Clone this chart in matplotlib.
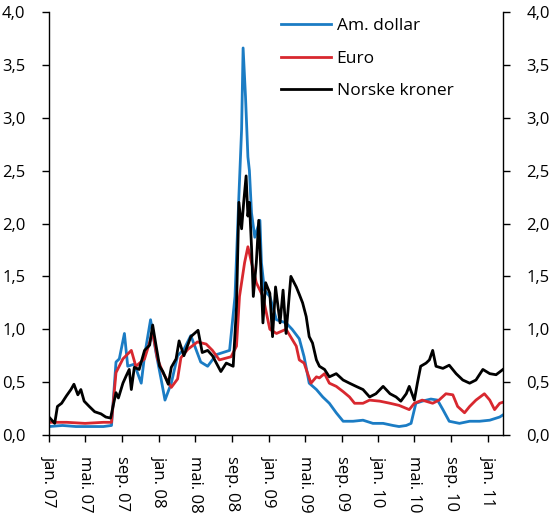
import pandas as pd
import numpy as np
import matplotlib
matplotlib.use("Agg")
import matplotlib.pyplot as plt

plt.rcParams['font.family'] = ['Open Sans', 'DejaVu Sans']

# Am. dollar
usd_dates = [
    "2007-01-01", "2007-02-15", "2007-04-01", "2007-05-15", "2007-07-01", "2007-07-28",
    "2007-08-12", "2007-08-23", "2007-09-09", "2007-09-20", "2007-10-12", "2007-11-04",
    "2007-11-15", "2007-12-05", "2007-12-23", "2008-01-09", "2008-01-22", "2008-02-12",
    "2008-03-04", "2008-03-25", "2008-04-17", "2008-05-20", "2008-06-12", "2008-07-11",
    "2008-08-24", "2008-09-11", "2008-09-24", "2008-10-03", "2008-10-08", "2008-10-16",
    "2008-10-24", "2008-10-29", "2008-11-05", "2008-11-16", "2008-12-03", "2008-12-08",
    "2008-12-18", "2009-01-05", "2009-01-27", "2009-02-28", "2009-03-20", "2009-04-13",
    "2009-04-29", "2009-05-16", "2009-06-09", "2009-06-30", "2009-07-22", "2009-08-14",
    "2009-09-06", "2009-10-09", "2009-11-11", "2009-12-14", "2010-01-17", "2010-02-19",
    "2010-03-11", "2010-04-04", "2010-04-20", "2010-05-06", "2010-05-27", "2010-06-25",
    "2010-07-17", "2010-08-04", "2010-08-25", "2010-09-28", "2010-11-01", "2010-12-04",
    "2011-01-07", "2011-02-09", "2011-02-20",
]
usd_values = [
    0.08, 0.09, 0.08, 0.08, 0.08, 0.09,
    0.69, 0.72, 0.96, 0.65, 0.67, 0.49,
    0.75, 1.09, 0.78, 0.53, 0.33, 0.49,
    0.75, 0.81, 0.94, 0.69, 0.65, 0.76,
    0.80, 1.31, 2.26, 2.89, 3.66, 3.20,
    2.63, 2.50, 2.10, 1.87, 2.03, 1.63,
    1.37, 1.31, 1.09, 1.06, 1.00, 0.91,
    0.74, 0.49, 0.43, 0.36, 0.30, 0.21,
    0.13, 0.13, 0.14, 0.11, 0.11, 0.09,
    0.08, 0.09, 0.11, 0.30, 0.32, 0.34,
    0.33, 0.24, 0.13, 0.11, 0.13, 0.13,
    0.14, 0.17, 0.19,
]

# Euro
eur_dates = [
    "2007-01-01", "2007-03-01", "2007-05-01", "2007-07-01", "2007-07-28",
    "2007-08-12", "2007-09-04", "2007-10-02", "2007-10-17", "2007-11-15", "2007-12-12",
    "2007-12-28", "2008-01-15", "2008-02-12", "2008-03-04", "2008-03-15", "2008-04-07",
    "2008-05-09", "2008-06-07", "2008-06-28", "2008-07-21", "2008-08-29", "2008-09-16",
    "2008-09-26", "2008-10-13", "2008-10-24", "2008-11-05", "2008-11-21", "2008-12-13",
    "2009-01-05", "2009-01-27", "2009-02-28", "2009-04-03", "2009-04-13", "2009-04-29",
    "2009-05-11", "2009-05-22", "2009-06-09", "2009-06-19", "2009-07-06", "2009-07-22",
    "2009-08-14", "2009-09-06", "2009-09-27", "2009-10-14", "2009-11-11", "2009-12-03",
    "2010-01-06", "2010-02-09", "2010-03-11", "2010-04-14", "2010-05-01", "2010-05-27",
    "2010-07-01", "2010-07-22", "2010-08-14", "2010-09-06", "2010-09-22", "2010-10-15",
    "2010-11-01", "2010-11-22", "2010-12-20", "2011-01-07", "2011-01-23", "2011-02-09",
    "2011-02-20",
]
eur_values = [
    0.12, 0.12, 0.11, 0.12, 0.12,
    0.59, 0.72, 0.80, 0.65, 0.72, 0.97,
    0.72, 0.59, 0.45, 0.53, 0.73, 0.81,
    0.88, 0.86, 0.80, 0.71, 0.74, 0.84,
    1.31, 1.63, 1.78, 1.63, 1.44, 1.31,
    1.00, 0.96, 1.00, 0.84, 0.71, 0.68,
    0.58, 0.49, 0.55, 0.54, 0.58, 0.49,
    0.46, 0.41, 0.36, 0.30, 0.30, 0.33,
    0.32, 0.30, 0.28, 0.24, 0.30, 0.33,
    0.30, 0.33, 0.39, 0.38, 0.27, 0.21,
    0.27, 0.33, 0.39, 0.33, 0.24, 0.30,
    0.31,
]

# Norske kroner
nok_dates = [
    "2007-01-01", "2007-01-20", "2007-01-29", "2007-02-12", "2007-02-28", "2007-03-15",
    "2007-03-25", "2007-04-07", "2007-04-17", "2007-04-28", "2007-05-15", "2007-06-02",
    "2007-06-23", "2007-07-09", "2007-07-25", "2007-08-02", "2007-08-12", "2007-08-20",
    "2007-09-04", "2007-09-15", "2007-09-25", "2007-10-02", "2007-10-12", "2007-10-28",
    "2007-11-15", "2007-12-02", "2007-12-12", "2007-12-23", "2008-01-04", "2008-01-15",
    "2008-02-02", "2008-02-12", "2008-02-28", "2008-03-09", "2008-03-25", "2008-04-17",
    "2008-05-11", "2008-05-25", "2008-06-12", "2008-06-28", "2008-07-11", "2008-07-26",
    "2008-08-13", "2008-09-05", "2008-09-16", "2008-09-24", "2008-10-03", "2008-10-10",
    "2008-10-18", "2008-10-24", "2008-10-29", "2008-11-05", "2008-11-11", "2008-11-21",
    "2008-11-29", "2008-12-06", "2008-12-13", "2008-12-22", "2009-01-05", "2009-01-14",
    "2009-01-24", "2009-02-08", "2009-02-18", "2009-02-28", "2009-03-16", "2009-04-03",
    "2009-04-13", "2009-04-24", "2009-05-06", "2009-05-16", "2009-05-27", "2009-06-09",
    "2009-06-19", "2009-07-06", "2009-07-22", "2009-08-14", "2009-09-06", "2009-09-27",
    "2009-10-19", "2009-11-11", "2009-12-03", "2009-12-24", "2010-01-17", "2010-02-09",
    "2010-03-01", "2010-03-17", "2010-04-04", "2010-04-14", "2010-05-01", "2010-05-11",
    "2010-05-22", "2010-06-09", "2010-06-20", "2010-07-01", "2010-07-12", "2010-08-04",
    "2010-08-25", "2010-09-17", "2010-10-09", "2010-11-01", "2010-11-22", "2010-12-15",
    "2011-01-07", "2011-01-28", "2011-02-20",
]
nok_values = [
    0.17, 0.11, 0.27, 0.30, 0.37, 0.43,
    0.48, 0.38, 0.43, 0.32, 0.27, 0.22,
    0.20, 0.17, 0.16, 0.27, 0.40, 0.35,
    0.49, 0.56, 0.62, 0.43, 0.64, 0.62,
    0.80, 0.85, 1.04, 0.85, 0.65, 0.60,
    0.48, 0.64, 0.72, 0.89, 0.75, 0.93,
    0.99, 0.78, 0.80, 0.75, 0.68, 0.60,
    0.68, 0.65, 1.21, 2.20, 1.95, 2.20,
    2.45, 2.07, 2.20, 1.78, 1.31, 1.63,
    2.03, 1.57, 1.06, 1.44, 1.34, 0.93,
    1.40, 1.06, 1.37, 0.96, 1.50, 1.40,
    1.33, 1.25, 1.12, 0.93, 0.87, 0.71,
    0.65, 0.62, 0.55, 0.58, 0.52, 0.49,
    0.46, 0.43, 0.36, 0.39, 0.46, 0.39,
    0.36, 0.32, 0.39, 0.46, 0.33, 0.49,
    0.65, 0.68, 0.71, 0.80, 0.65, 0.63,
    0.66, 0.58, 0.52, 0.49, 0.52, 0.62,
    0.58, 0.57, 0.62,
]

series_labels = ["Am. dollar", "Euro", "Norske kroner"]
series_colors = ["#1b7cc4", "#d8282f", "#000000"]

tick_dates = ["2007-01-01", "2007-05-01", "2007-09-01", "2008-01-01", "2008-05-01",
              "2008-09-01", "2009-01-01", "2009-05-01", "2009-09-01", "2010-01-01",
              "2010-05-01", "2010-09-01", "2011-01-01"]
tick_labels = ["jan. 07", "mai. 07", "sep. 07", "jan. 08", "mai. 08", "sep. 08",
               "jan. 09", "mai. 09", "sep. 09", "jan. 10", "mai. 10", "sep. 10", "jan. 11"]
y_ticks = [0.0, 0.5, 1.0, 1.5, 2.0, 2.5, 3.0, 3.5, 4.0]

fig = plt.figure(figsize=(5.5, 5.21), dpi=100)
ax = fig.add_axes([49 / 550, 1 - 435 / 521, 454 / 550, 423 / 521])

all_dates = [usd_dates, eur_dates, nok_dates]
all_values = [usd_values, eur_values, nok_values]
for d, v, lab, col in zip(all_dates, all_values, series_labels, series_colors):
    ax.plot(pd.to_datetime(d), v, color=col, lw=2.0, label=lab, solid_joinstyle='round')

ax.set_xlim(pd.Timestamp("2007-01-01"), pd.Timestamp("2011-02-20"))
ax.set_ylim(0, 4)
ax.set_xticks(pd.to_datetime(tick_dates))
ax.set_xticklabels(tick_labels, rotation=-90, fontsize=12)
ax.set_yticks(y_ticks)
ax.set_yticklabels([f"{v:.1f}".replace(".", ",") for v in y_ticks], fontsize=12)

ax.spines['top'].set_visible(False)
for s in ['left', 'right', 'bottom']:
    ax.spines[s].set_linewidth(1.0)
ax.tick_params(axis='y', direction='out', length=5, width=1, pad=12,
               left=True, right=True, labelleft=True, labelright=True)
ax.tick_params(axis='x', direction='out', length=5, width=1, pad=10)

ax.legend(loc='upper left', bbox_to_anchor=(281 / 550, 1 - 18 / 521),
          bbox_transform=fig.transFigure, frameon=False, fontsize=12.5,
          handlelength=2.9, handletextpad=0.3, labelspacing=0.95,
          borderpad=0, borderaxespad=0)

fig.savefig("out.png", dpi=100)
